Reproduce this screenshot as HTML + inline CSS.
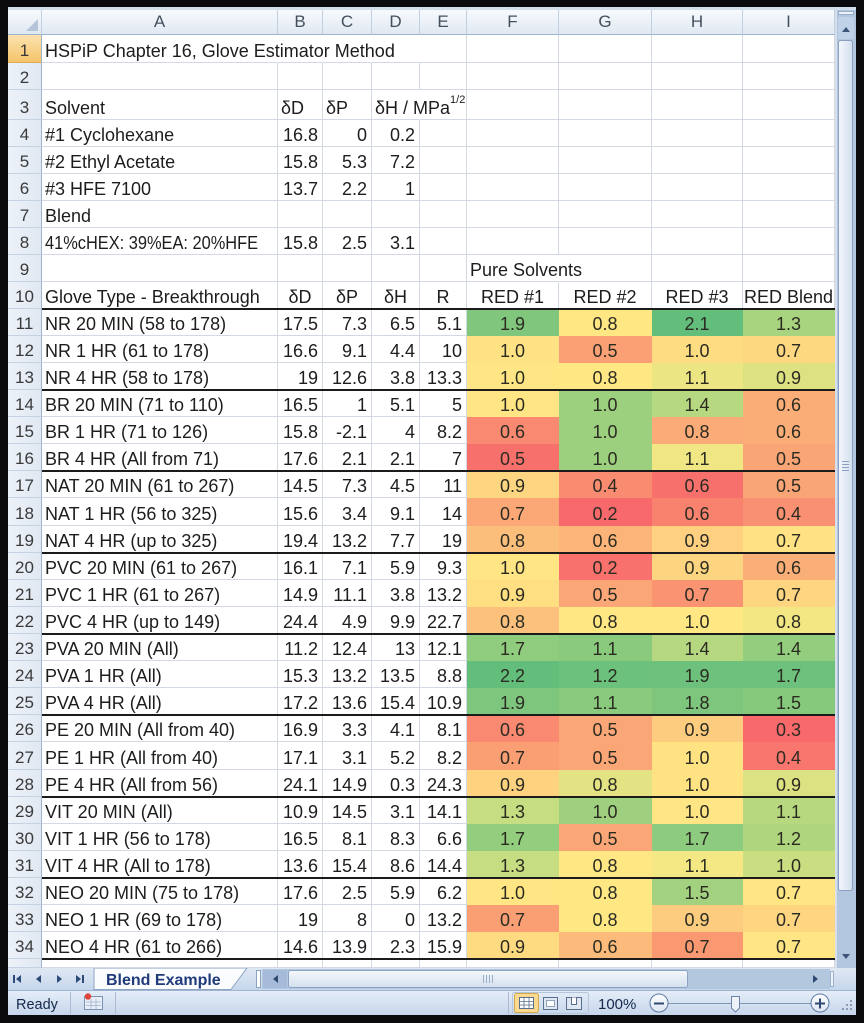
<!DOCTYPE html>
<html><head><meta charset="utf-8">
<style>
body{margin:0;width:864px;height:1023px;background:#0b0b0d;position:relative;overflow:hidden;font-family:"Liberation Sans",sans-serif}
#panel{position:absolute;left:8px;top:7px;width:848px;height:1008px;background:#d3deec}
#sheet{position:absolute;left:42px;top:35px;width:793px;height:933px;background:#fff}
.r{position:absolute;left:8px;height:27px;display:flex}
.r>div{box-sizing:border-box;height:100%;border-right:1px solid #d3d9e3;border-bottom:1px solid #d3d9e3;white-space:nowrap;display:flex;align-items:flex-end;padding:0 0 1px 3px;font-size:18px;line-height:20px;color:#1d1d1d;flex:none}
.r>.rh{width:34px;background:linear-gradient(to right,#edf2f9,#e1e8f2);border-right-color:#9db4cd;border-bottom-color:#c5d2e2;justify-content:center;padding-left:0;font-size:17px;color:#3a3a3a}
.a{width:236px}.b{width:45px}.c{width:49px}.d{width:48px}.e{width:47px}.f{width:92px}.g{width:93px}.k{width:91px}.i{width:92px}
.r>.n{justify-content:flex-end;padding-right:4px;padding-left:0}
.r>.m{justify-content:center;padding-left:0}
.r>.x{background:var(--c);border-color:var(--c);justify-content:center;padding-left:0;color:#2b2b22}
.r>.nb{border-right-color:transparent}
.hd>div{background:linear-gradient(#f8fafd,#e0e8f2)!important;border-right-color:#c0cede!important;border-bottom-color:#9db4cd!important;justify-content:center;align-items:center!important;padding:0!important;font-size:17px!important;color:#454f5c!important;position:relative}
.r>.sel{background:linear-gradient(#fbe3ae,#f5c46b);border-bottom-color:#e2aa52}
.tri{position:absolute;right:3px;bottom:3px;width:0;height:0;border-left:12px solid transparent;border-bottom:12px solid #b4c5d9}
.tk{position:absolute;left:42px;width:793px;height:2px;background:#1b1b1b}
sup{font-size:11px;vertical-align:0;position:relative;top:-8px}
.sq{display:inline-block;transform:scaleX(0.91);transform-origin:left bottom}
</style></head><body>
<div id="panel"></div>
<div id="sheet"></div>

<div class="r hd" style="top:10px;height:25px"><div class="rh"><span class="tri"></span></div><div class="a">A</div><div class="b">B</div><div class="c">C</div><div class="d">D</div><div class="e">E</div><div class="f">F</div><div class="g">G</div><div class="k">H</div><div class="i">I</div></div>

<div class="r" style="top:35px;height:28px"><div class="rh sel">1</div><div class="a nb">HSPiP Chapter 16, Glove Estimator Method</div><div class="b nb"></div><div class="c nb"></div><div class="d nb"></div><div class="e"></div><div class="f"></div><div class="g"></div><div class="k"></div><div class="i"></div></div>
<div class="r" style="top:63px"><div class="rh">2</div><div class="a"></div><div class="b"></div><div class="c"></div><div class="d"></div><div class="e"></div><div class="f"></div><div class="g"></div><div class="k"></div><div class="i"></div></div>
<div class="r" style="top:90px;height:30px"><div class="rh">3</div><div class="a">Solvent</div><div class="b">δD</div><div class="c">δP</div><div class="d nb">δH / MPa<sup>1/2</sup></div><div class="e"></div><div class="f"></div><div class="g"></div><div class="k"></div><div class="i"></div></div>
<div class="r" style="top:120px"><div class="rh">4</div><div class="a">#1 Cyclohexane</div><div class="b n">16.8</div><div class="c n">0</div><div class="d n">0.2</div><div class="e"></div><div class="f"></div><div class="g"></div><div class="k"></div><div class="i"></div></div>
<div class="r" style="top:147px"><div class="rh">5</div><div class="a">#2 Ethyl Acetate</div><div class="b n">15.8</div><div class="c n">5.3</div><div class="d n">7.2</div><div class="e"></div><div class="f"></div><div class="g"></div><div class="k"></div><div class="i"></div></div>
<div class="r" style="top:174px"><div class="rh">6</div><div class="a">#3 HFE 7100</div><div class="b n">13.7</div><div class="c n">2.2</div><div class="d n">1</div><div class="e"></div><div class="f"></div><div class="g"></div><div class="k"></div><div class="i"></div></div>
<div class="r" style="top:201px"><div class="rh">7</div><div class="a">Blend</div><div class="b"></div><div class="c"></div><div class="d"></div><div class="e"></div><div class="f"></div><div class="g"></div><div class="k"></div><div class="i"></div></div>
<div class="r" style="top:228px"><div class="rh">8</div><div class="a"><span class="sq">41%cHEX: 39%EA: 20%HFE</span></div><div class="b n">15.8</div><div class="c n">2.5</div><div class="d n">3.1</div><div class="e"></div><div class="f"></div><div class="g"></div><div class="k"></div><div class="i"></div></div>
<div class="r" style="top:255px"><div class="rh">9</div><div class="a"></div><div class="b"></div><div class="c"></div><div class="d"></div><div class="e"></div><div class="f nb">Pure Solvents</div><div class="g"></div><div class="k"></div><div class="i"></div></div>
<div class="r" style="top:282px"><div class="rh">10</div><div class="a">Glove Type - Breakthrough</div><div class="b m">δD</div><div class="c m">δP</div><div class="d m">δH</div><div class="e m">R</div><div class="f m">RED #1</div><div class="g m">RED #2</div><div class="k m">RED #3</div><div class="i m">RED Blend</div></div>

<div class="r" style="top:309px"><div class="rh">11</div><div class="a">NR 20 MIN (58 to 178)</div><div class="b n">17.5</div><div class="c n">7.3</div><div class="d n">6.5</div><div class="e n">5.1</div><div class="f x" style="--c:#80C77D">1.9</div><div class="g x" style="--c:#FFE784">0.8</div><div class="k x" style="--c:#63BE7B">2.1</div><div class="i x" style="--c:#A9D47F">1.3</div></div>
<div class="r" style="top:336px"><div class="rh">12</div><div class="a">NR 1 HR (61 to 178)</div><div class="b n">16.6</div><div class="c n">9.1</div><div class="d n">4.4</div><div class="e n">10</div><div class="f x" style="--c:#FFE283">1.0</div><div class="g x" style="--c:#FAA074">0.5</div><div class="k x" style="--c:#FEDC81">1.0</div><div class="i x" style="--c:#FDD880">0.7</div></div>
<div class="r" style="top:363px"><div class="rh">13</div><div class="a">NR 4 HR (58 to 178)</div><div class="b n">19</div><div class="c n">12.6</div><div class="d n">3.8</div><div class="e n">13.3</div><div class="f x" style="--c:#FFE583">1.0</div><div class="g x" style="--c:#FFE784">0.8</div><div class="k x" style="--c:#ECE583">1.1</div><div class="i x" style="--c:#DDE182">0.9</div></div>
<div class="r" style="top:390px"><div class="rh">14</div><div class="a">BR 20 MIN (71 to 110)</div><div class="b n">16.5</div><div class="c n">1</div><div class="d n">5.1</div><div class="e n">5</div><div class="f x" style="--c:#FFE583">1.0</div><div class="g x" style="--c:#9CD07F">1.0</div><div class="k x" style="--c:#B6D880">1.4</div><div class="i x" style="--c:#FBAD77">0.6</div></div>
<div class="r" style="top:417px"><div class="rh">15</div><div class="a">BR 1 HR (71 to 126)</div><div class="b n">15.8</div><div class="c n">-2.1</div><div class="d n">4</div><div class="e n">8.2</div><div class="f x" style="--c:#F98A71">0.6</div><div class="g x" style="--c:#9CD07F">1.0</div><div class="k x" style="--c:#FBAB77">0.8</div><div class="i x" style="--c:#FBAD77">0.6</div></div>
<div class="r" style="top:444px"><div class="rh">16</div><div class="a">BR 4 HR (All from 71)</div><div class="b n">17.6</div><div class="c n">2.1</div><div class="d n">2.1</div><div class="e n">7</div><div class="f x" style="--c:#F8706C">0.5</div><div class="g x" style="--c:#9CD07F">1.0</div><div class="k x" style="--c:#F0E784">1.1</div><div class="i x" style="--c:#FAA575">0.5</div></div>
<div class="r" style="top:471px"><div class="rh">17</div><div class="a">NAT 20 MIN (61 to 267)</div><div class="b n">14.5</div><div class="c n">7.3</div><div class="d n">4.5</div><div class="e n">11</div><div class="f x" style="--c:#FED580">0.9</div><div class="g x" style="--c:#F98B71">0.4</div><div class="k x" style="--c:#F8706C">0.6</div><div class="i x" style="--c:#FAA575">0.5</div></div>
<div class="r" style="top:498px;height:28px"><div class="rh">18</div><div class="a">NAT 1 HR (56 to 325)</div><div class="b n">15.6</div><div class="c n">3.4</div><div class="d n">9.1</div><div class="e n">14</div><div class="f x" style="--c:#FBA876">0.7</div><div class="g x" style="--c:#F8696B">0.2</div><div class="k x" style="--c:#F9826F">0.6</div><div class="i x" style="--c:#F99072">0.4</div></div>
<div class="r" style="top:526px"><div class="rh">19</div><div class="a">NAT 4 HR (up to 325)</div><div class="b n">19.4</div><div class="c n">13.2</div><div class="d n">7.7</div><div class="e n">19</div><div class="f x" style="--c:#FCBF7B">0.8</div><div class="g x" style="--c:#FCB479">0.6</div><div class="k x" style="--c:#FED07F">0.9</div><div class="i x" style="--c:#FFE283">0.7</div></div>
<div class="r" style="top:553px"><div class="rh">20</div><div class="a">PVC 20 MIN (61 to 267)</div><div class="b n">16.1</div><div class="c n">7.1</div><div class="d n">5.9</div><div class="e n">9.3</div><div class="f x" style="--c:#FFE583">1.0</div><div class="g x" style="--c:#F8716C">0.2</div><div class="k x" style="--c:#FDD480">0.9</div><div class="i x" style="--c:#FBAF78">0.6</div></div>
<div class="r" style="top:580px"><div class="rh">21</div><div class="a">PVC 1 HR (61 to 267)</div><div class="b n">14.9</div><div class="c n">11.1</div><div class="d n">3.8</div><div class="e n">13.2</div><div class="f x" style="--c:#FFDF82">0.9</div><div class="g x" style="--c:#FAA676">0.5</div><div class="k x" style="--c:#F99371">0.7</div><div class="i x" style="--c:#FED580">0.7</div></div>
<div class="r" style="top:607px"><div class="rh">22</div><div class="a">PVC 4 HR (up to 149)</div><div class="b n">24.4</div><div class="c n">4.9</div><div class="d n">9.9</div><div class="e n">22.7</div><div class="f x" style="--c:#FCC17C">0.8</div><div class="g x" style="--c:#FFE784">0.8</div><div class="k x" style="--c:#FFE784">1.0</div><div class="i x" style="--c:#F3E784">0.8</div></div>
<div class="r" style="top:634px"><div class="rh">23</div><div class="a">PVA 20 MIN (All)</div><div class="b n">11.2</div><div class="c n">12.4</div><div class="d n">13</div><div class="e n">12.1</div><div class="f x" style="--c:#8FCC7E">1.7</div><div class="g x" style="--c:#89CA7D">1.1</div><div class="k x" style="--c:#B4D780">1.4</div><div class="i x" style="--c:#93CD7E">1.4</div></div>
<div class="r" style="top:661px"><div class="rh">24</div><div class="a">PVA 1 HR (All)</div><div class="b n">15.3</div><div class="c n">13.2</div><div class="d n">13.5</div><div class="e n">8.8</div><div class="f x" style="--c:#63BE7B">2.2</div><div class="g x" style="--c:#6CC17C">1.2</div><div class="k x" style="--c:#6EC17C">1.9</div><div class="i x" style="--c:#6DC17C">1.7</div></div>
<div class="r" style="top:688px"><div class="rh">25</div><div class="a">PVA 4 HR (All)</div><div class="b n">17.2</div><div class="c n">13.6</div><div class="d n">15.4</div><div class="e n">10.9</div><div class="f x" style="--c:#7EC67D">1.9</div><div class="g x" style="--c:#89CA7D">1.1</div><div class="k x" style="--c:#7EC67D">1.8</div><div class="i x" style="--c:#86C97D">1.5</div></div>
<div class="r" style="top:715px"><div class="rh">26</div><div class="a">PE 20 MIN (All from 40)</div><div class="b n">16.9</div><div class="c n">3.3</div><div class="d n">4.1</div><div class="e n">8.1</div><div class="f x" style="--c:#F98A71">0.6</div><div class="g x" style="--c:#FAA676">0.5</div><div class="k x" style="--c:#FDCC7E">0.9</div><div class="i x" style="--c:#F8696B">0.3</div></div>
<div class="r" style="top:742px;height:28px"><div class="rh">27</div><div class="a">PE 1 HR (All from 40)</div><div class="b n">17.1</div><div class="c n">3.1</div><div class="d n">5.2</div><div class="e n">8.2</div><div class="f x" style="--c:#FA9E74">0.7</div><div class="g x" style="--c:#FAA676">0.5</div><div class="k x" style="--c:#FFE383">1.0</div><div class="i x" style="--c:#F8766D">0.4</div></div>
<div class="r" style="top:770px"><div class="rh">28</div><div class="a">PE 4 HR (All from 56)</div><div class="b n">24.1</div><div class="c n">14.9</div><div class="d n">0.3</div><div class="e n">24.3</div><div class="f x" style="--c:#FED27F">0.9</div><div class="g x" style="--c:#E4E383">0.8</div><div class="k x" style="--c:#FFE383">1.0</div><div class="i x" style="--c:#DCE182">0.9</div></div>
<div class="r" style="top:797px"><div class="rh">29</div><div class="a">VIT 20 MIN (All)</div><div class="b n">10.9</div><div class="c n">14.5</div><div class="d n">3.1</div><div class="e n">14.1</div><div class="f x" style="--c:#C7DD81">1.3</div><div class="g x" style="--c:#9ED07F">1.0</div><div class="k x" style="--c:#FFE583">1.0</div><div class="i x" style="--c:#B8D880">1.1</div></div>
<div class="r" style="top:824px"><div class="rh">30</div><div class="a">VIT 1 HR (56 to 178)</div><div class="b n">16.5</div><div class="c n">8.1</div><div class="d n">8.3</div><div class="e n">6.6</div><div class="f x" style="--c:#93CD7E">1.7</div><div class="g x" style="--c:#FAA676">0.5</div><div class="k x" style="--c:#8DCB7E">1.7</div><div class="i x" style="--c:#AFD67F">1.2</div></div>
<div class="r" style="top:851px"><div class="rh">31</div><div class="a">VIT 4 HR (All to 178)</div><div class="b n">13.6</div><div class="c n">15.4</div><div class="d n">8.6</div><div class="e n">14.4</div><div class="f x" style="--c:#C7DD81">1.3</div><div class="g x" style="--c:#FFE784">0.8</div><div class="k x" style="--c:#F4E884">1.1</div><div class="i x" style="--c:#C9DD81">1.0</div></div>
<div class="r" style="top:878px"><div class="rh">32</div><div class="a">NEO 20 MIN (75 to 178)</div><div class="b n">17.6</div><div class="c n">2.5</div><div class="d n">5.9</div><div class="e n">6.2</div><div class="f x" style="--c:#FFE583">1.0</div><div class="g x" style="--c:#FFE784">0.8</div><div class="k x" style="--c:#A2D17F">1.5</div><div class="i x" style="--c:#FFE583">0.7</div></div>
<div class="r" style="top:905px"><div class="rh">33</div><div class="a">NEO 1 HR (69 to 178)</div><div class="b n">19</div><div class="c n">8</div><div class="d n">0</div><div class="e n">13.2</div><div class="f x" style="--c:#FA9E74">0.7</div><div class="g x" style="--c:#FFE784">0.8</div><div class="k x" style="--c:#FDCC7E">0.9</div><div class="i x" style="--c:#FED580">0.7</div></div>
<div class="r" style="top:932px"><div class="rh">34</div><div class="a">NEO 4 HR (61 to 266)</div><div class="b n">14.6</div><div class="c n">13.9</div><div class="d n">2.3</div><div class="e n">15.9</div><div class="f x" style="--c:#FEDA81">0.9</div><div class="g x" style="--c:#FCBB7A">0.6</div><div class="k x" style="--c:#F99871">0.7</div><div class="i x" style="--c:#FFE583">0.7</div></div>
<div class="r" style="top:959px;height:9px"><div class="rh"></div><div class="a"></div><div class="b"></div><div class="c"></div><div class="d"></div><div class="e"></div><div class="f"></div><div class="g"></div><div class="k"></div><div class="i"></div></div>

<div class="tk" style="top:308px"></div>
<div class="tk" style="top:389px"></div>
<div class="tk" style="top:470px"></div>
<div class="tk" style="top:552px"></div>
<div class="tk" style="top:633px"></div>
<div class="tk" style="top:714px"></div>
<div class="tk" style="top:796px"></div>
<div class="tk" style="top:877px"></div>
<div class="tk" style="top:958px"></div>

<svg width="21" height="958" style="position:absolute;left:835px;top:10px">
<defs><linearGradient id="vt" x1="0" x2="1" y1="0" y2="0"><stop offset="0" stop-color="#f4f7fc"/><stop offset="1" stop-color="#d2deee"/></linearGradient></defs>
<rect width="21" height="958" fill="#b2c6df"/>
<rect x="0" y="0" width="2" height="958" fill="#d6dfeb"/>
<rect x="3.5" y="1.5" width="15" height="3" fill="#eef3f9" stroke="#8aa2c0" stroke-width="0.8"/>
<rect x="3" y="7" width="16" height="22" rx="2" fill="#c0d2e8"/>
<polygon points="7,22 15,22 11,17" fill="#3e5679"/>
<rect x="3.5" y="30.5" width="14" height="850" rx="2" fill="url(#vt)" stroke="#8aa2c0"/>
<path d="M7 451.5h7M7 454.5h7M7 457.5h7M7 460.5h7" stroke="#8aa2c0"/>
<polygon points="7,944 15,944 11,949" fill="#3e5679"/>
</svg>

<svg width="864" height="47" style="position:absolute;left:0;top:968px" font-family="Liberation Sans, sans-serif">
<defs>
<linearGradient id="tb" x1="0" x2="0" y1="0" y2="1"><stop offset="0" stop-color="#dfe8f4"/><stop offset="1" stop-color="#c6d7eb"/></linearGradient>
<linearGradient id="sb" x1="0" x2="0" y1="0" y2="1"><stop offset="0" stop-color="#e6eef9"/><stop offset="1" stop-color="#c6d6eb"/></linearGradient>
<linearGradient id="ht" x1="0" x2="0" y1="0" y2="1"><stop offset="0" stop-color="#f5f8fc"/><stop offset="1" stop-color="#d4e0ef"/></linearGradient>
<linearGradient id="bt" x1="0" x2="0" y1="0" y2="1"><stop offset="0" stop-color="#fdfeff"/><stop offset="1" stop-color="#dbe5f1"/></linearGradient>
</defs>
<rect x="8" y="0" width="848" height="22" fill="url(#tb)"/>
<g fill="#2d4a78">
<rect x="13" y="7" width="2" height="8"/><polygon points="21,7 21,15 16,11"/>
<polygon points="41,7 41,15 36,11"/>
<polygon points="57,7 57,15 62,11"/>
<polygon points="76,7 76,15 81,11"/><rect x="82" y="7" width="2" height="8"/>
</g>
<polygon points="94,0 247,0 231,21.5 94,21.5" fill="#fbfcfe" stroke="#8da5c6"/>
<text x="106" y="17" font-size="16" font-weight="bold" fill="#1f3b7a">Blend Example</text>
<rect x="256.5" y="2.5" width="4" height="17" fill="#fff" stroke="#8ba3c3"/>
<rect x="262" y="1" width="568" height="20" fill="#b3c7df"/>
<rect x="263" y="2" width="24" height="18" fill="#a5bbd9"/>
<polygon points="278,7 278,15 273,11" fill="#2f4a70"/>
<rect x="288.5" y="2.5" width="399" height="17" rx="2" fill="url(#ht)" stroke="#8ca4c2"/>
<path d="M483.5 7v8M486.5 7v8M489.5 7v8M492.5 7v8" stroke="#9aaec6"/>
<polygon points="813,7 813,15 818,11" fill="#2f4a70"/>
<rect x="830.5" y="3.5" width="3" height="15" fill="#eef3f9" stroke="#8ba3c3" stroke-width="0.8"/>

<rect x="8" y="22" width="848" height="25" fill="url(#sb)"/>
<line x1="8" y1="22.5" x2="856" y2="22.5" stroke="#9db3cf"/>
<text x="16" y="41" font-size="14.5" fill="#15294b">Ready</text>
<line x1="70.5" y1="24" x2="70.5" y2="46" stroke="#a9bcd4"/>
<line x1="115.5" y1="24" x2="115.5" y2="46" stroke="#a9bcd4"/>
<rect x="84.5" y="28.5" width="18" height="13" fill="#e8eef6" stroke="#7a93b5"/>
<path d="M86 34h15M86 37.5h15M91 31v10M96 31v10" stroke="#9fb3cc" stroke-width="0.8"/>
<circle cx="88" cy="28.5" r="3.2" fill="#e0453a"/>
<line x1="508.5" y1="24" x2="508.5" y2="46" stroke="#a9bcd4"/>
<rect x="512.5" y="24.5" width="76" height="21" rx="2" fill="none" stroke="#b6c6da"/>
<rect x="514.5" y="25.5" width="24" height="19" rx="2" fill="#fbd98f" stroke="#d7a94a"/>
<rect x="519.5" y="29.5" width="14" height="11" fill="#fff" stroke="#5a6f8e"/>
<path d="M519.5 33.5h14M519.5 37h14M524 29.5v11M529 29.5v11" stroke="#5a6f8e" stroke-width="0.8"/>
<rect x="543.5" y="29.5" width="14" height="12" fill="#dfe7f2" stroke="#5a6f8e"/>
<rect x="546.5" y="32.5" width="8" height="6" fill="#fff" stroke="#7d90ab" stroke-width="0.8"/>
<rect x="566.5" y="29.5" width="15" height="12" fill="#dfe7f2" stroke="#5a6f8e"/>
<path d="M571.5 29.5v7h5v-7" fill="#fff" stroke="#5a6f8e"/>
<text x="598" y="41" font-size="15" fill="#15294b">100%</text>
<line x1="668" y1="35.5" x2="811" y2="35.5" stroke="#8397b3"/>
<circle cx="659" cy="35" r="9" fill="url(#bt)" stroke="#5d7aa1"/>
<line x1="654" y1="35.5" x2="664" y2="35.5" stroke="#2f4a70" stroke-width="2"/>
<circle cx="820" cy="35" r="9" fill="url(#bt)" stroke="#5d7aa1"/>
<path d="M815 35.5h10M820 30.5v10" stroke="#2f4a70" stroke-width="2"/>
<polygon points="731.5,28.5 739.5,28.5 739.5,40 735.5,44 731.5,40" fill="#eef3f9" stroke="#6d86a8"/>
<g fill="#8a9cb5"><rect x="850" y="32" width="2" height="2"/><rect x="846" y="36" width="2" height="2"/><rect x="850" y="36" width="2" height="2"/><rect x="842" y="40" width="2" height="2"/><rect x="846" y="40" width="2" height="2"/><rect x="850" y="40" width="2" height="2"/></g>
</svg>
</body></html>
